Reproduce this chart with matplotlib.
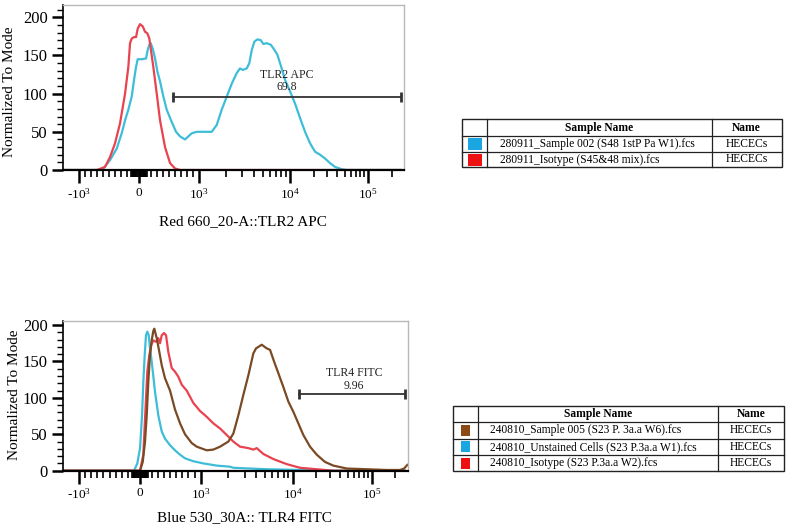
import numpy as np
import matplotlib
matplotlib.use("Agg")
import matplotlib.pyplot as plt
from matplotlib.patches import Rectangle

plt.rcParams['font.family'] = 'Liberation Serif'
plt.rcParams['mathtext.fontset'] = 'custom'
plt.rcParams['mathtext.rm'] = 'Liberation Serif'
plt.rcParams['mathtext.it'] = 'Liberation Serif:italic'

# ---- TLR2 APC histograms (top panel) ----
tlr2_sample_x = [-1500, -700, -595, -483, -372, -289, -233, -178, -122, -83,
                 -50, -22, 44, 117, 144, 172, 194, 228, 267, 306,
                 350, 406, 461, 544, 617, 683, 767, 822, 878, 961,
                 1025, 1379, 1565, 1776, 2016, 2288, 2596, 2822, 3021, 3344,
                 3571, 3794, 4053, 4372, 4764, 5088, 5546, 6137, 6672, 7252,
                 7904, 8812, 10000, 11590, 13440, 15570, 18050, 20920, 24240, 28100,
                 32570, 37750, 46000, 53330, 262143]
tlr2_sample_y = [0, 0, 2, 13, 28, 48, 65, 79, 96, 118,
                 135, 145, 145, 146, 157, 164, 166, 159, 146, 129,
                 116, 96, 79, 63, 50, 44, 40, 44, 48, 50,
                 50, 50, 59, 79, 96, 113, 127, 133, 131, 133,
                 140, 157, 168, 171, 170, 165, 166, 164, 158, 151,
                 137, 118, 103, 87, 68, 50, 35, 24, 20, 15,
                 9, 4, 1, 0, 0]
tlr2_iso_x = [-1500, -700, -567, -483, -400, -317, -233, -178, -150, -122, -83, -50, -22,
              17, 62, 100, 138, 172, 238, 295, 350, 433, 517, 600, 683, 262143]
tlr2_iso_y = [0, 0, 4, 17, 35, 61, 100, 135, 166, 172, 174, 174, 185,
              191, 188, 181, 179, 172, 135, 100, 65, 30, 9, 2, 0, 0]

# ---- TLR4 FITC histograms (bottom panel) ----
tlr4_sample_x = [-1500, 2, 46, 84, 112, 138, 166, 194, 221, 237,
                 277, 320, 359, 413, 496, 578, 661, 743, 853, 936,
                 1165, 1374, 1624, 2000, 2266, 2568, 2909, 3298, 3736, 3998,
                 4609, 5224, 5673, 6270, 6980, 7910, 8965, 10180, 11790, 13640,
                 16580, 20170, 25690, 32730, 48390, 86750, 155500, 229300, 257600, 283500]
tlr4_sample_y = [0, 0, 12, 40, 76, 122, 159, 179, 192, 195,
                 182, 163, 145, 127, 110, 84, 65, 50, 38, 33,
                 28, 29, 33, 40, 51, 76, 104, 131, 161, 168,
                 173, 168, 166, 150, 134, 115, 95, 81, 65, 49,
                 33, 22, 12, 7, 3, 2, 1, 1, 3, 8]
tlr4_unst_x = [-1500, -97, -43, 2, 35, 56, 79, 100, 122, 145,
               166, 194, 249, 303, 359, 413, 496, 578, 661, 743,
               880, 1070, 1495, 2086, 2265, 5220, 12390, 32470, 262143]
tlr4_unst_y = [0, 0, 10, 31, 76, 122, 159, 186, 191, 186,
               168, 150, 108, 76, 54, 44, 35, 28, 22, 17,
               13, 10, 7, 5.5, 4, 2, 1, 0, 0]
tlr4_iso_x = [-1500, 2, 56, 100, 122, 155, 188, 221, 265, 303,
              331, 359, 397, 430, 468, 524, 578, 633, 689, 771,
              880, 990, 1165, 1374, 1624, 1921, 2266, 2679, 3298, 3736,
              4068, 4797, 6163, 8614, 12390, 20170, 32730, 262143]
tlr4_iso_y = [0, 0, 22, 99, 136, 159, 173, 179, 177, 182,
              175, 186, 189, 186, 163, 141, 136, 129, 118, 110,
              93, 82, 74, 65, 58, 49, 40, 33, 31, 29,
              31, 23, 16, 9, 4, 2, 0, 0]

# gates: (start, end, y, name, percent, label x)
tlr2_gate = (570, 262143, 96, "TLR2 APC", "69.8", 9300)
tlr4_gate = (12000, 262143, 105, "TLR4 FITC", "9.96", 60000)

tick_vals = [-1e3, 0, 1e3, 1e4, 1e5]
tick_text = ['-10$^3$', '0', '10$^3$', '10$^4$', '10$^5$']

top_rows = [("280911_Sample 002 (S48 1stP Pa W1).fcs", "HECECs", '#1aa6e0'),
            ("280911_Isotype (S45&48 mix).fcs", "HECECs", '#ee1111')]
bottom_rows = [("240810_Sample 005 (S23 P. 3a.a W6).fcs", "HECECs", '#8b4a16'),
               ("240810_Unstained Cells (S23 P.3a.a W1).fcs", "HECECs", '#1aa6e0'),
               ("240810_Isotype (S23 P.3a.a W2).fcs", "HECECs", '#ee1111')]

CYAN = '#3ebdd8'
RED = '#e8434f'
BROWN = '#7a4a24'


def biex_fwd(x):
    # linear around zero, log above 10^3 (FlowJo-like display)
    x = np.asarray(x, dtype=float)
    a = np.abs(x)
    p = np.where(a <= 1e3, 0.06 * a,
                 np.where(a <= 1e4, 60 + 91 * np.log10(np.maximum(a, 1e3) / 1e3),
                          151 + 78 * np.log10(np.maximum(a, 1e4) / 1e4)))
    return np.sign(x) * p


def biex_inv(p):
    p = np.asarray(p, dtype=float)
    b = np.abs(p)
    x = np.where(b <= 60, b / 0.06,
                 np.where(b <= 151, 1e3 * 10 ** ((np.minimum(b, 151) - 60) / 91),
                          1e4 * 10 ** ((np.minimum(b, 600) - 151) / 78)))
    return np.sign(p) * x


def minor_ticks():
    t = []
    for k in range(1, 10):
        t += [k * 15, -k * 15, k * 100, -k * 100]
    for k in range(2, 10):
        t += [k * 1e3, k * 1e4]
    t.append(2e5)
    return sorted(t)


def style_hist(ax, ymax, xlabel, gate, ylab_x, ylab_y, xlab_x, xlab_y):
    ax.set_xscale('function', functions=(biex_fwd, biex_inv))
    ax.set_xlim(-1500, 289000)
    ax.set_ylim(0, ymax)
    ax.set_xticks(tick_vals)
    ax.set_xticklabels(tick_text)
    ax.set_xticks(minor_ticks(), minor=True)
    ax.set_yticks([0, 50, 100, 150, 200])
    ax.set_yticks(np.arange(0, ymax, 10), minor=True)
    ax.tick_params(axis='x', which='major', direction='out', length=9, width=1.8,
                   labelsize=9.5, pad=3)
    ax.tick_params(axis='x', which='minor', direction='out', length=5, width=1.2)
    ax.tick_params(axis='y', which='major', direction='out', length=8, width=1.8,
                   labelsize=12, pad=3)
    ax.tick_params(axis='y', which='minor', direction='out', length=4, width=1)
    for s in ['top', 'right']:
        ax.spines[s].set_color('#b8b8b8')
        ax.spines[s].set_linewidth(1)
    ax.spines['left'].set_linewidth(1.2)
    ax.spines['bottom'].set_linewidth(1.6)

    x0, x1, gy, name, pct, gx = gate
    ax.plot([x0, x1], [gy, gy], color='#333333', lw=1.3, marker='|', ms=7, mew=2)
    ax.text(gx, gy + 29, name, ha='center', va='center', fontsize=8.5, color='#222222')
    ax.text(gx, gy + 12, pct, ha='center', va='center', fontsize=8.5, color='#222222')

    ax.text(ylab_x, ylab_y, "Normalized To Mode", transform=ax.transAxes, rotation=90,
            ha='center', va='center', fontsize=11)
    ax.text(xlab_x, xlab_y, xlabel, transform=ax.transAxes, ha='center', va='center',
            fontsize=11)


def draw_table(ax, xs, ys, rows, sw_w, sw_h, text_x):
    x0, c1, c2, x1 = xs
    ax.add_patch(Rectangle((x0, ys[0]), x1 - x0, ys[-1] - ys[0], fill=False,
                           ec='#222222', lw=1))
    for y in ys[1:-1]:
        ax.plot([x0, x1], [y, y], color='#222222', lw=0.9)
    for x in (c1, c2):
        ax.plot([x, x], [ys[0], ys[-1]], color='#222222', lw=0.9)
    hy = (ys[0] + ys[1]) / 2
    ax.text((c1 + c2) / 2, hy, "Sample Name", ha='center', va='center',
            fontsize=8.3, fontweight='bold')
    ax.text((c2 + x1) / 2, hy, "Name", ha='center', va='center',
            fontsize=8.3, fontweight='bold')
    for i, (sample, name, col) in enumerate(rows):
        ry = (ys[i + 1] + ys[i + 2]) / 2
        cx = (x0 + c1) / 2
        ax.add_patch(Rectangle((cx - sw_w / 2, ry - sw_h / 2), sw_w, sw_h,
                               color=col, lw=0))
        ax.text(text_x, ry, sample, ha='left', va='center', fontsize=8.3)
        ax.text((c2 + x1) / 2, ry, name, ha='center', va='center', fontsize=8.3)


fig = plt.figure(figsize=(7.88, 5.31), dpi=100)
W, H = 788.0, 531.0

ax1 = fig.add_axes([63 / W, (H - 170) / H, 341 / W, 165 / H])
ax1.plot(tlr2_sample_x, tlr2_sample_y, color=CYAN, lw=1.6)
ax1.plot(tlr2_iso_x, tlr2_iso_y, color=RED, lw=1.6)
style_hist(ax1, 216, "Red 660_20-A::TLR2 APC", tlr2_gate,
           (10 - 63) / 341, (170 - 92) / 165, (243 - 63) / 341, (170 - 222) / 165)

ax2 = fig.add_axes([63 / W, (H - 470.7) / H, 345 / W, 150 / H])
ax2.plot(tlr4_unst_x, tlr4_unst_y, color=CYAN, lw=1.6)
ax2.plot(tlr4_iso_x, tlr4_iso_y, color=RED, lw=1.6)
ax2.plot(tlr4_sample_x, tlr4_sample_y, color=BROWN, lw=1.6)
style_hist(ax2, 206, "Blue 530_30A:: TLR4 FITC", tlr4_gate,
           (15 - 63) / 345, (470.7 - 395) / 150, (244 - 63) / 345, (470.7 - 518) / 150)

# legend tables drawn in pixel coordinates
tab = fig.add_axes([0, 0, 1, 1])
tab.set_xlim(0, W)
tab.set_ylim(H, 0)
tab.axis('off')
tab.patch.set_alpha(0)
draw_table(tab, (462.3, 487.3, 711.7, 781.7), [119.3, 136, 152.3, 166.7],
           top_rows, 14, 12, 500)
draw_table(tab, (453.3, 478.3, 718.3, 784.3), [405.7, 421.7, 438.7, 455, 471],
           bottom_rows, 9, 11, 490)

fig.savefig('out.png', dpi=100)
